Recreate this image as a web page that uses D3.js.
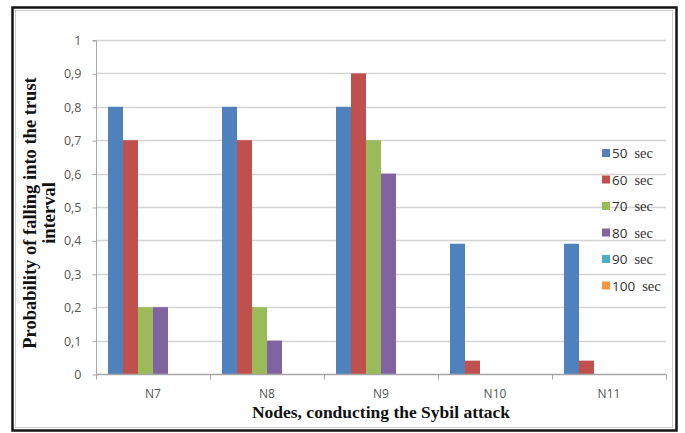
<!DOCTYPE html>
<html>
<head>
<meta charset="utf-8">
<script src="https://cdn.jsdelivr.net/npm/d3@7"></script>
<style>
  html, body { margin: 0; padding: 0; background: #fff; }
  svg { display: block; }
</style>
</head>
<body>
<script>
// Chart data
const nodes = ["N7", "N8", "N9", "N10", "N11"];
const seriesNames = ["50", "60", "70", "80", "90", "100"];
const seriesUnit = "sec";
const seriesColors = ["#4F81BD", "#C0504D", "#9BBB59", "#8064A2", "#4BACC6", "#F79646"];
const values50 = [0.8, 0.8, 0.8, 0.39, 0.39];
const values60 = [0.7, 0.7, 0.9, 0.04, 0.04];
const values70 = [0.2, 0.2, 0.7, 0, 0];
const values80 = [0.2, 0.1, 0.6, 0, 0];
const values90 = [0, 0, 0, 0, 0];
const values100 = [0, 0, 0, 0, 0];
const yTicks = [0, 0.1, 0.2, 0.3, 0.4, 0.5, 0.6, 0.7, 0.8, 0.9, 1];
const yTitleLines = ["Probability of falling into the trust", "interval"];
const xTitle = "Nodes, conducting the Sybil attack";

const seriesValues = [values50, values60, values70, values80, values90, values100];

const W = 685, H = 433;
const plot = { left: 96, right: 666, top: 40, bottom: 374 };

const svg = d3.select("body").append("svg")
  .attr("width", W).attr("height", H);

// Frame around the chart
svg.append("rect")
  .attr("x", 12.5).attr("y", 7.5).attr("width", 664).attr("height", 423)
  .attr("fill", "#fff").attr("stroke", "#151515").attr("stroke-width", 2.5);
svg.append("rect")
  .attr("x", 15.5).attr("y", 10.5).attr("width", 657).attr("height", 417)
  .attr("fill", "none").attr("stroke", "#cfcfcf").attr("stroke-width", 1);

const y = d3.scaleLinear().domain([0, 1]).range([plot.bottom, plot.top]);
const x0 = d3.scaleBand().domain(nodes).range([plot.left, plot.left + 114 * nodes.length]);
const x1 = d3.scaleBand().domain(seriesNames)
  .range([0, x0.bandwidth()]).paddingOuter(0.8);

// Horizontal gridlines
svg.append("g").selectAll("line")
  .data(yTicks.filter(d => d > 0))
  .join("line")
  .attr("x1", plot.left).attr("x2", plot.right)
  .attr("y1", d => Math.round(y(d)) + 0.5).attr("y2", d => Math.round(y(d)) + 0.5)
  .attr("stroke", "#d4d4d4").attr("stroke-width", 1.5);

// Y axis
const yAxis = d3.axisLeft(y).tickValues(yTicks).tickSize(4).tickPadding(11)
  .tickFormat(d => d3.format("~g")(d).replace(".", ","));
const gy = svg.append("g").attr("transform", `translate(${plot.left + 0.5},0.5)`).call(yAxis);
gy.select(".domain").attr("stroke", "#a6a6a6").attr("d", `M-4,${y(1)}H0V${y(0)}`);
gy.selectAll(".tick line").attr("stroke", "#a6a6a6");
gy.selectAll(".tick text")
  .attr("fill", "#555").attr("font-family", "'Open Sans', sans-serif").attr("font-size", 12.5);

// Bars
const groups = svg.append("g").selectAll("g")
  .data(nodes)
  .join("g")
  .attr("transform", d => `translate(${x0(d)},0)`);
groups.selectAll("rect")
  .data((d, i) => seriesNames.map((s, j) => ({ s, j, v: seriesValues[j][i] })))
  .join("rect")
  .attr("x", d => x1(d.s))
  .attr("width", x1.bandwidth())
  .attr("y", d => y(d.v))
  .attr("height", d => y(0) - y(d.v))
  .attr("fill", d => seriesColors[d.j]);

// X axis with ticks between categories
const gx = svg.append("g").attr("transform", `translate(0,${plot.bottom + 0.5})`);
gx.append("line")
  .attr("x1", plot.left).attr("x2", plot.right)
  .attr("stroke", "#a6a6a6").attr("stroke-width", 1.5);
const boundaries = nodes.map(n => x0(n)).concat([x0(nodes[nodes.length - 1]) + x0.bandwidth()]);
gx.selectAll(".sep").data(boundaries).join("line")
  .attr("class", "sep")
  .attr("x1", d => d + 0.5).attr("x2", d => d + 0.5)
  .attr("y1", 0).attr("y2", 5)
  .attr("stroke", "#a6a6a6");
gx.selectAll(".cat").data(nodes).join("text")
  .attr("class", "cat")
  .attr("x", d => x0(d) + x0.bandwidth() / 2)
  .attr("y", 23)
  .attr("text-anchor", "middle")
  .attr("fill", "#555")
  .attr("font-family", "'Open Sans', sans-serif")
  .attr("font-size", 12)
  .text(d => d);

// Axis titles
svg.append("text")
  .attr("x", 381).attr("y", 418)
  .attr("text-anchor", "middle")
  .attr("font-family", "'Liberation Serif', serif")
  .attr("font-weight", "bold").attr("font-size", 17.5)
  .attr("fill", "#111")
  .text(xTitle);

const yTitle = svg.append("text")
  .attr("transform", "translate(0,213) rotate(-90)")
  .attr("text-anchor", "middle")
  .attr("font-family", "'Liberation Serif', serif")
  .attr("font-weight", "bold").attr("font-size", 18.5)
  .attr("fill", "#111");
yTitle.selectAll("tspan").data(yTitleLines).join("tspan")
  .attr("x", 0)
  .attr("y", (d, i) => 36 + i * 18.5)
  .text(d => d);

// Legend
const legend = svg.append("g").selectAll("g")
  .data(seriesNames)
  .join("g")
  .attr("transform", (d, i) => `translate(602,${153 + i * 26.5})`);
legend.append("rect")
  .attr("x", 0).attr("y", -4).attr("width", 8).attr("height", 8)
  .attr("fill", (d, i) => seriesColors[i]);
const lt = legend.append("text")
  .attr("x", 10).attr("y", 5)
  .attr("fill", "#333");
lt.append("tspan")
  .attr("font-family", "'Open Sans', sans-serif").attr("font-size", 13.5)
  .text(d => d);
lt.append("tspan")
  .attr("dx", 7)
  .attr("font-family", "'Liberation Serif', serif").attr("font-size", 14.5)
  .text(seriesUnit);
</script>
</body>
</html>
